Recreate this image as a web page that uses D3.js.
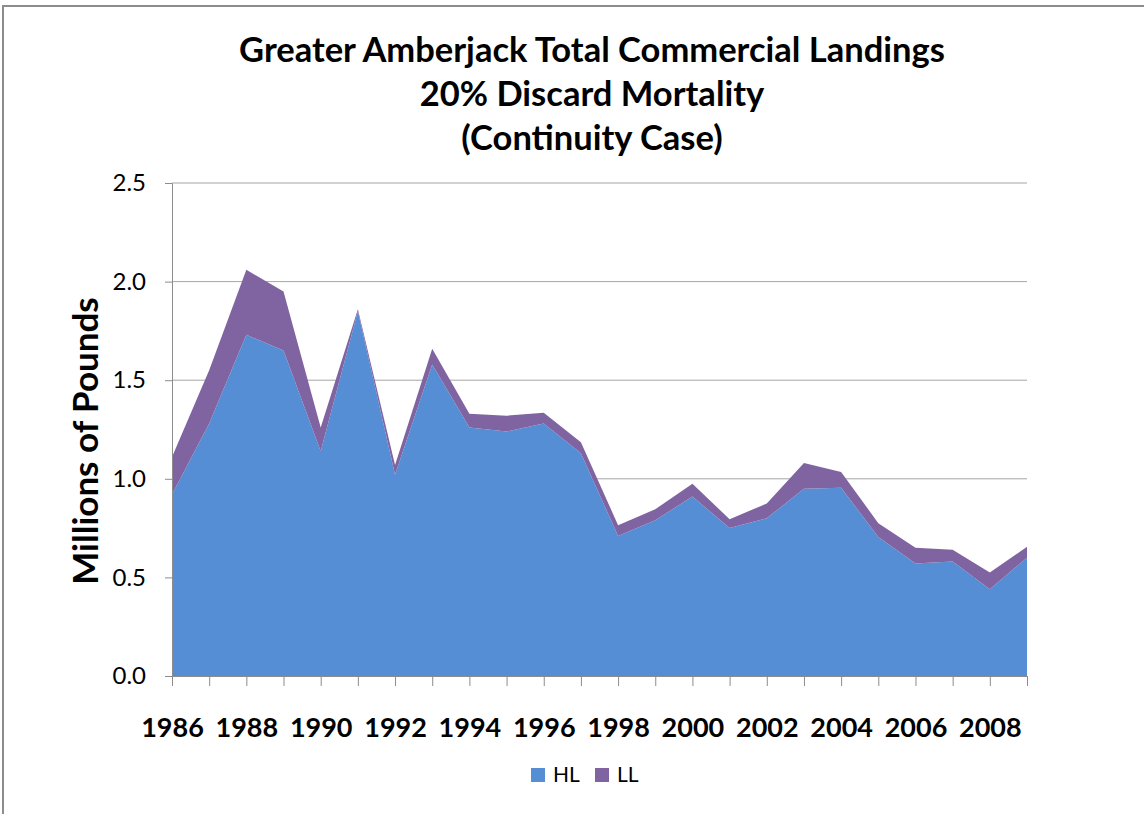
<meta charset="utf-8">
<script src="https://d3js.org/d3.v7.min.js"></script>
<style>
  body { margin: 0; background: #fff; }
  text { font-family: Lato, "Open Sans", sans-serif; fill: #000; }
</style>
<body>
<div id="chart"></div>
<script>

var width = 1144
var height = 814

var years = [1986, 1987, 1988, 1989, 1990, 1991, 1992, 1993, 1994, 1995, 1996, 1997,
             1998, 1999, 2000, 2001, 2002, 2003, 2004, 2005, 2006, 2007, 2008, 2009]
// hook and line
var hl = [0.92, 1.28, 1.73, 1.65, 1.14, 1.85, 1.02, 1.58, 1.26, 1.24, 1.28, 1.13,
          0.71, 0.79, 0.91, 0.75, 0.80, 0.95, 0.955, 0.705, 0.57, 0.58, 0.44, 0.60]
// longline
var ll = [0.19, 0.27, 0.33, 0.30, 0.12, 0.01, 0.05, 0.08, 0.07, 0.08, 0.055, 0.055,
          0.055, 0.055, 0.065, 0.045, 0.075, 0.13, 0.08, 0.07, 0.08, 0.06, 0.085, 0.055]
var series = ["HL", "LL"]
var colors = ["#558ed5", "#8064a2"]
var yTicks = [0, 0.5, 1.0, 1.5, 2.0, 2.5]
var titleLines = ["Greater Amberjack Total Commercial Landings", "20% Discard Mortality", "(Continuity Case)"]

var rows = years.map(function(yr, i) { return { year: yr, HL: hl[i], LL: ll[i] } })

var svg = d3.select("#chart").append("svg")
    .attr("width", width)
    .attr("height", height)

// chart frame (only top and left edges visible)
svg.append("rect")
    .attr("x", 3).attr("y", 6)
    .attr("width", 1300).attr("height", 1000)
    .attr("fill", "none")
    .attr("stroke", "#8c8c8c")
    .attr("stroke-width", 2)

var plotLeft = 172, plotRight = 1027, plotTop = 183, plotBottom = 676

var x = d3.scalePoint().domain(years).range([plotLeft, plotRight])
var y = d3.scaleLinear().domain([0, 2.5]).range([plotBottom, plotTop])
var color = d3.scaleOrdinal().domain(series).range(colors)

// gridlines
svg.append("g")
  .selectAll("line")
  .data(yTicks.filter(function(d){ return d > 0 }))
  .enter().append("line")
    .attr("x1", plotLeft).attr("x2", plotRight)
    .attr("y1", function(d){ return y(d) }).attr("y2", function(d){ return y(d) })
    .attr("stroke", "#a6a6a6")
    .attr("stroke-width", 1)

var stack = d3.stack().keys(series)
var layers = stack(rows)

var area = d3.area()
    .x(function(d){ return x(d.data.year) })
    .y0(function(d){ return y(d[0]) })
    .y1(function(d){ return y(d[1]) })

svg.append("g")
  .selectAll("path")
  .data(layers)
  .enter().append("path")
    .attr("d", area)
    .attr("fill", function(d){ return color(d.key) })

// y axis
var yAxis = svg.append("g")
    .attr("transform", "translate(" + plotLeft + ",0)")
    .call(d3.axisLeft(y).tickValues(yTicks).tickFormat(d3.format(".1f")).tickSize(7).tickPadding(19))
yAxis.select(".domain").attr("stroke", "#8c8c8c")
yAxis.selectAll(".tick line").attr("stroke", "#8c8c8c")
yAxis.selectAll("text")
    .style("font-family", "Lato, sans-serif")
    .style("font-size", "24px")
    .attr("fill", "#000")

// x axis
var xAxis = svg.append("g")
    .attr("transform", "translate(0," + plotBottom + ")")
    .call(d3.axisBottom(x).tickSize(10).tickPadding(32)
      .tickFormat(function(d){ return (d - 1986) % 2 === 0 ? d : "" }))
xAxis.select(".domain").attr("stroke", "#8c8c8c")
xAxis.selectAll(".tick line").attr("stroke", "#8c8c8c")
xAxis.selectAll("text")
    .style("font-family", "Lato, sans-serif")
    .style("font-size", "27px")
    .style("font-weight", "bold")
    .attr("fill", "#000")

// title
svg.append("g")
  .selectAll("text")
  .data(titleLines)
  .enter().append("text")
    .attr("x", 592)
    .attr("y", function(d, i){ return 62 + i * 44 })
    .attr("text-anchor", "middle")
    .style("font-size", "34.5px")
    .style("font-weight", "bold")
    .text(function(d){ return d })

// y axis title
svg.append("text")
    .attr("transform", "translate(98,441) rotate(-90)")
    .attr("text-anchor", "middle")
    .style("font-size", "35px")
    .style("font-weight", "bold")
    .text("Millions of Pounds")

// legend
var legend = svg.append("g")
  .selectAll("g")
  .data(series)
  .enter().append("g")
    .attr("transform", function(d, i){ return "translate(" + (531 + i * 64) + ",768)" })
legend.append("rect")
    .attr("width", 14).attr("height", 14)
    .attr("fill", function(d){ return color(d) })
legend.append("text")
    .attr("x", 22).attr("y", 14)
    .style("font-size", "21px")
    .attr("fill", "#262626")
    .text(function(d){ return d })

</script>
</body>
